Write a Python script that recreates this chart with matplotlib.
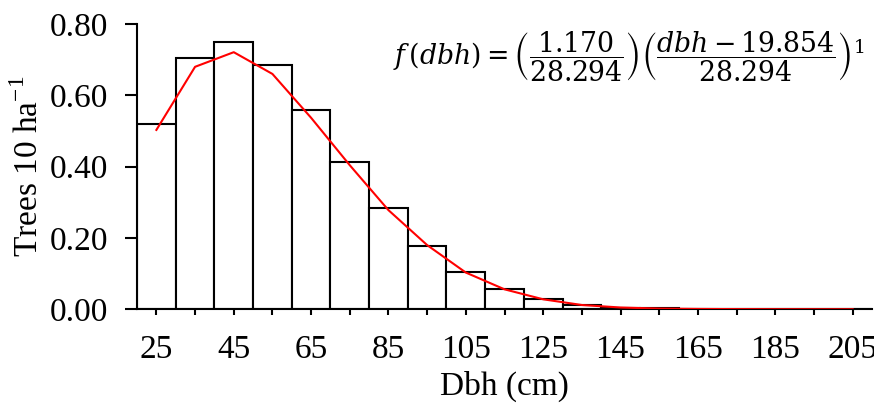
import matplotlib
matplotlib.use("Agg")
import matplotlib.pyplot as plt
import numpy as np

# Data
dbh_classes = [25, 35, 45, 55, 65, 75, 85, 95, 105, 115, 125, 135, 145, 155, 165, 175, 185, 195, 205]
observed = [0.521, 0.705, 0.749, 0.684, 0.559, 0.413, 0.283, 0.178, 0.104, 0.056, 0.028, 0.013,
            0.005, 0.003, 0.002, 0.001, 0.001, 0.001, 0.001]
fitted = [0.503, 0.680, 0.721, 0.660, 0.537, 0.404, 0.278, 0.180, 0.103, 0.056, 0.028, 0.012,
          0.005, 0.002, 0.001, 0.0005, 0.0002, 0.0001, 0.0]
tick_labels = [25, 45, 65, 85, 105, 125, 145, 165, 185, 205]
yticks = [0.0, 0.2, 0.4, 0.6, 0.8]

plt.rcParams['font.family'] = ['Liberation Serif', 'DejaVu Serif']
plt.rcParams['mathtext.fontset'] = 'dejavuserif'

fig = plt.figure(figsize=(8.74, 4.12), dpi=100)
ax = fig.add_axes([0.1568, 0.2493, 0.8409, 0.6924])

ax.bar(dbh_classes, observed, width=10, color='white', edgecolor='black', linewidth=1.5, zorder=2)
ax.plot(dbh_classes, fitted, color='red', linewidth=1.5, zorder=3)

ax.set_xlim(20, 210)
ax.set_ylim(0, 0.8)
ax.set_yticks(yticks)
ax.set_yticklabels([f"{v:.2f}" for v in yticks])
ax.set_xticks(dbh_classes)
ax.set_xticklabels([str(c) if c in tick_labels else "" for c in dbh_classes])

for s in ['top', 'right']:
    ax.spines[s].set_visible(False)
for s in ['left', 'bottom']:
    ax.spines[s].set_linewidth(1.5)

ax.tick_params(axis='y', direction='out', length=9, width=1.5, pad=12, labelsize=24)
ax.tick_params(axis='x', direction='out', length=4, width=1.5, pad=14, labelsize=24)

ax.set_ylabel('Trees 10 ha$^{\\mathregular{-1}}$', fontsize=24, labelpad=4)
ax.set_xlabel('Dbh (cm)', fontsize=24, labelpad=4)

eq = r'$f\,(dbh) = \left(\dfrac{1.170}{28.294}\right)\left(\dfrac{dbh - 19.854}{28.294}\right)^{1}$'
fig.text(0.450, 0.862, eq, fontsize=19.3, ha='left', va='center')

fig.savefig('out.png', dpi=100)
